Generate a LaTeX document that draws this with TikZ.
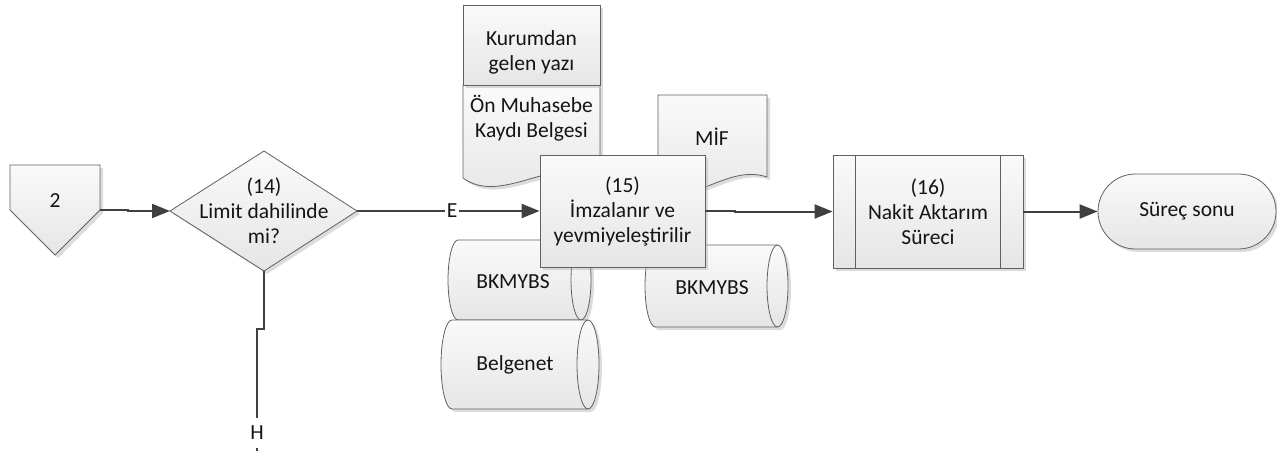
\documentclass[tikz,border=0pt]{standalone}
\usepackage{fontspec}
\setmainfont{Carlito}
\usetikzlibrary{arrows.meta,shadows}
\tikzset{
  shp/.style={draw=black!62, line width=0.8pt, top color=black!2, bottom color=black!10,
    general shadow={shadow xshift=3pt, shadow yshift=-3pt, fill=black!30, opacity=0.45}},
  edge line/.style={draw=black!62, line width=0.8pt},
  lbl/.style={align=center, text=black!92, inner sep=0pt},
  conn/.style={draw=black!75, line width=2pt, -{Triangle[length=18pt,width=14pt]}},
  plainline/.style={draw=black!75, line width=2pt},
  lblbg/.style={fill=white, text=black!92, inner xsep=2pt, inner ysep=8pt},
}
\begin{document}
\begin{tikzpicture}[x=1pt,y=1pt,font=\fontsize{21.5}{25}\selectfont]
\useasboundingbox (0,0) rectangle (1277,-450);

% off-page connector 2
\draw[shp] (10,-165) -- (100,-165) -- (100,-210) -- (55,-255) -- (10,-210) -- cycle;
\node[lbl] (n2) at (55,-201) {2};
\coordinate (n2out) at (100,-209.5);

% decision 14
\draw[shp] (170,-211) coordinate (dW) -- (264,-151) coordinate (dN)
  -- (357,-211) coordinate (dE) -- (264,-271) coordinate (dS) -- cycle;
\node[lbl] (d14) at (264,-211) {(14)\\Limit dahilinde\\mi?};

% documents
\draw[shp] (463,-85) -- (600,-85) -- (600,-172) .. controls (550,-158) and (500,-205) .. (463,-178) -- cycle;
\node[lbl] (onm) at (531.5,-118) {Ön Muhasebe\\Kaydı Belgesi};
\node[shp, minimum width=137, minimum height=80, inner sep=0pt] (kur) at (531.5,-45) {};
\node[lbl] (kurt) at (531.5,-52) {Kurumdan\\gelen yazı};

\draw[shp] (658,-95) -- (767,-95) -- (767,-177) .. controls (725,-163) and (690,-212) .. (658,-183) -- cycle;
\node[lbl] (mif) at (712,-137) {MİF};

% databases
\draw[shp] (458,-240) -- (581,-240) arc[start angle=90,end angle=-90,x radius=10,y radius=40]
  -- (458,-320) arc[start angle=270,end angle=90,x radius=10,y radius=40] -- cycle;
\draw[edge line] (581,-240) arc[start angle=90,end angle=270,x radius=10,y radius=40];
\node[lbl] (db1) at (513,-282) {BKMYBS};

\draw[shp] (452,-320) -- (588,-320) arc[start angle=90,end angle=-90,x radius=11,y radius=44.5]
  -- (452,-409) arc[start angle=270,end angle=90,x radius=11,y radius=44.5] -- cycle;
\draw[edge line] (588,-320) arc[start angle=90,end angle=270,x radius=11,y radius=44.5];
\node[lbl] (db2) at (515,-365) {Belgenet};

\draw[shp] (655.5,-245) -- (777.5,-245) arc[start angle=90,end angle=-90,x radius=10.5,y radius=41]
  -- (655.5,-327) arc[start angle=270,end angle=90,x radius=10.5,y radius=41] -- cycle;
\draw[edge line] (777.5,-245) arc[start angle=90,end angle=270,x radius=10.5,y radius=41];
\node[lbl] (db3) at (712,-288) {BKMYBS};

% process 15
\node[shp, minimum width=165, minimum height=112, inner sep=0pt, align=center, text=black!92]
  (b15) at (622.5,-211) {(15)\\İmzalanır ve\\yevmiyeleştirilir};

% predefined process 16
\node[shp, minimum width=190, minimum height=113, inner sep=0pt, align=center, text=black!92]
  (b16) at (928,-211.5) {(16)\\Nakit Aktarım\\Süreci};
\draw[edge line] ([xshift=23pt]b16.north west) -- ([xshift=23pt]b16.south west);
\draw[edge line] ([xshift=-23pt]b16.north east) -- ([xshift=-23pt]b16.south east);

% terminator
\node[shp, rounded corners=37.5pt, minimum width=178, minimum height=75, inner sep=0pt, text=black!92]
  (end) at (1187,-211.5) {Süreç sonu};

% connectors
\draw[conn] (n2out) -- ++(28,0) |- (dW);
\draw[conn] (dE) -- (b15.west);
\node[lblbg, inner ysep=2pt] (lE) at (452,-211) {E};
\draw[conn] (b15.east) -- ++(30,0) |- (b16.west);
\draw[conn] (b16.east) -- (end.west);
\coordinate (hj) at (264,-329);
\coordinate (hEnd) at (257,-465);
\draw[plainline] (dS) -- (hj) -| (hEnd);
\node[lblbg] (lH) at (257,-433) {H};
\end{tikzpicture}
\end{document}
